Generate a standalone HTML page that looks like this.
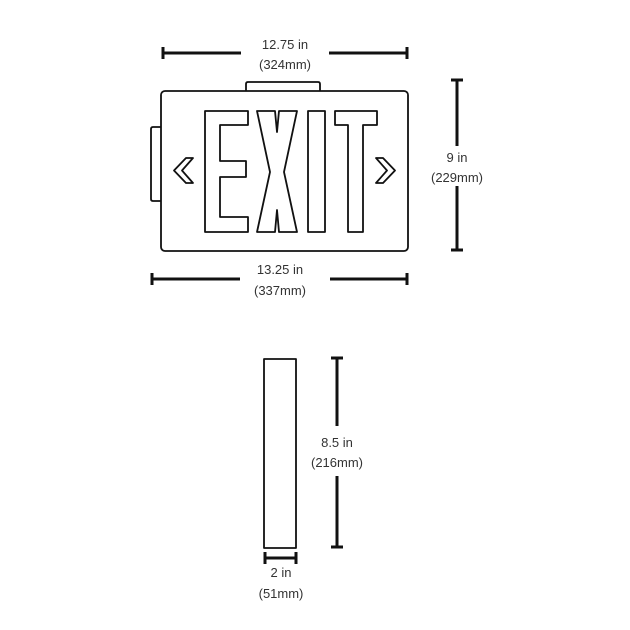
<!DOCTYPE html>
<html><head><style>
html,body{margin:0;padding:0;background:#fff;}
svg{display:block;}
text{font-family:"Liberation Sans",sans-serif;font-size:13px;fill:#333;text-anchor:middle;}
</style></head><body>
<svg width="630" height="630" viewBox="0 0 630 630">
<g stroke="#111" fill="none">
  <g stroke-width="3">
    <line x1="163" y1="53" x2="241" y2="53"/><line x1="329" y1="53" x2="407" y2="53"/>
    <line x1="163" y1="47" x2="163" y2="59"/><line x1="407" y1="47" x2="407" y2="59"/>
    <line x1="457" y1="80" x2="457" y2="146"/><line x1="457" y1="186" x2="457" y2="250"/>
    <line x1="451" y1="80" x2="463" y2="80"/><line x1="451" y1="250" x2="463" y2="250"/>
    <line x1="152" y1="279" x2="240" y2="279"/><line x1="330" y1="279" x2="407" y2="279"/>
    <line x1="152" y1="273" x2="152" y2="285"/><line x1="407" y1="273" x2="407" y2="285"/>
    <line x1="337" y1="358" x2="337" y2="426"/><line x1="337" y1="476" x2="337" y2="547"/>
    <line x1="331" y1="358" x2="343" y2="358"/><line x1="331" y1="547" x2="343" y2="547"/>
    <line x1="265" y1="558" x2="296" y2="558"/>
    <line x1="265" y1="552" x2="265" y2="564"/><line x1="296" y1="552" x2="296" y2="564"/>
  </g>
  <g stroke-width="1.8" stroke-linejoin="round">
    <path d="M246,91 L246,84 Q246,82 248,82 L318,82 Q320,82 320,84 L320,91"/>
    <path d="M161,127 L153,127 Q151,127 151,129 L151,199 Q151,201 153,201 L161,201"/>
    <rect x="161" y="91" width="247" height="160" rx="4"/>
    <path d="M205,111 H248 V125 H220 V161 H246 V177 H220 V217 H248 V232 H205 Z"/>
    <path d="M257,111 H275 L277,132 L279,111 H297 L284,172 L297,232 H279 L277,210 L275,232 H257 L270,172 Z"/>
    <rect x="308" y="111" width="17" height="121"/>
    <path d="M335,111 H377 V125 H363 V232 H348 V125 H335 Z"/>
    <path d="M186,158 L193,158 L182,170.5 L193,183 L186,183 L174,170.5 Z"/>
    <path d="M383,158 L376,158 L387,170.5 L376,183 L383,183 L395,170.5 Z"/>
    <rect x="264" y="359" width="32" height="189"/>
  </g>
</g>
<text x="285" y="49">12.75 in</text>
<text x="285" y="69">(324mm)</text>
<text x="457" y="162">9 in</text>
<text x="457" y="182">(229mm)</text>
<text x="280" y="274">13.25 in</text>
<text x="280" y="295">(337mm)</text>
<text x="337" y="447">8.5 in</text>
<text x="337" y="467">(216mm)</text>
<text x="281" y="577">2 in</text>
<text x="281" y="598">(51mm)</text>
</svg>
</body></html>
